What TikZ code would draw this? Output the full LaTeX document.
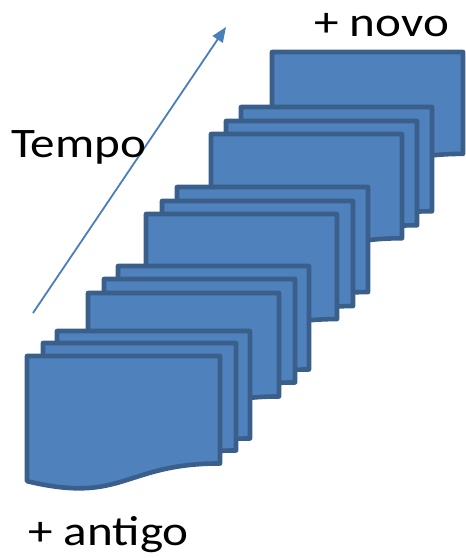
\documentclass[tikz,border=0pt]{standalone}
\usepackage{fontspec}
\usepackage{graphicx}
\setmainfont{Carlito}
\usetikzlibrary{arrows.meta}

\definecolor{docfill}{HTML}{4F81BD}
\definecolor{docline}{HTML}{3A5F8B}
\definecolor{timeline}{HTML}{4A7EBB}

% flowchart "document" sheet: top-left corner (#1,#2), width #3, height #4
\newcommand{\sheet}[4]{%
  \filldraw[sheetstyle] (#1,#2) -- ({#1+#3},#2) -- ({#1+#3},{#2+0.802*#4})
    .. controls ({#1+0.5*#3},{#2+0.802*#4}) and ({#1+0.5*#3},{#2+1.1075*#4}) ..
    (#1,{#2+0.934*#4}) -- cycle;}

\tikzset{
  sheetstyle/.style={fill=docfill, draw=docline, line width=4.6pt, line join=round},
  label/.style={inner sep=0pt, anchor=base west, font=\fontsize{42}{50}\selectfont},
}

\begin{document}
\begin{tikzpicture}[x=1pt, y=-1pt]
  \useasboundingbox (0,0) rectangle (466,558);

  % newest sheet, furthest back
  \sheet{272}{52}{191}{127}

  % fourth group
  \sheet{241}{107}{191}{130}
  \sheet{226}{121}{191}{130}
  \sheet{211}{134}{191}{130}

  % third group
  \sheet{177}{187}{191}{131}
  \sheet{162}{201}{191}{131}
  \sheet{146}{214}{191}{131}

  % second group
  \sheet{118}{266}{191}{129}
  \sheet{104}{279}{191}{129}
  \sheet{88}{293}{191}{129}

  % oldest group, in front
  \sheet{57}{331}{193}{134}
  \sheet{43}{343}{193}{134}
  \sheet{27}{356}{193}{134}

  % time axis
  \coordinate (tail) at (33,313);
  \coordinate (head) at (226,27);
  \draw[timeline, line width=1.8pt, -{Triangle[length=15pt,width=12pt]}] (tail) -- (head);

  \node[label] (tempo) at (11,157) {\scalebox{1.17}[1]{Tempo}};
  \node[label] (novo) at (314,36) {\scalebox{1.17}[1]{+ novo}};
  \node[label] (antigo) at (28,545) {\scalebox{1.17}[1]{+ antigo}};
\end{tikzpicture}
\end{document}
